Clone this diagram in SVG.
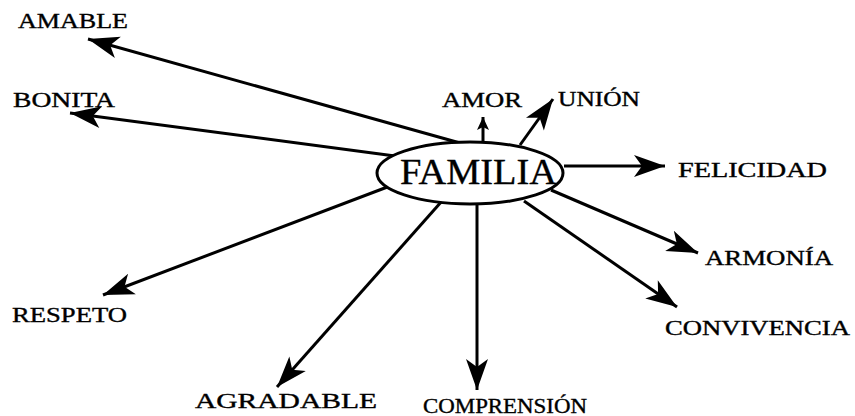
<svg xmlns="http://www.w3.org/2000/svg" width="855" height="416" viewBox="0 0 855 416">
<style>
.lbl{font-family:"Liberation Serif","Times New Roman",serif;font-size:20px;fill:#000;stroke:#000;stroke-width:0.35}
.c{stroke:#000;stroke-width:3;fill:none}
</style>
<defs>
<marker id="ah" markerUnits="userSpaceOnUse" markerWidth="34" markerHeight="24" viewBox="-32 -12 34 24" refX="0" refY="0" orient="auto">
<path d="M0,0 L-31,-11 L-23,0 L-31,11 Z" fill="#000"/>
</marker>
<marker id="ahs" markerUnits="userSpaceOnUse" markerWidth="16" markerHeight="14" viewBox="-14 -7 16 14" refX="0" refY="0" orient="auto">
<path d="M0,0 L-13,-6 L-10,0 L-13,6 Z" fill="#000"/>
</marker>
</defs>
<rect width="855" height="416" fill="#fff"/>
<g id="connectors">
<line class="c" x1="478" y1="148" x2="88" y2="39" marker-end="url(#ah)"/>
<line class="c" x1="395" y1="156" x2="70" y2="113" marker-end="url(#ah)"/>
<line class="c" x1="483" y1="146" x2="483" y2="117" marker-end="url(#ahs)"/>
<line class="c" x1="520" y1="145" x2="553" y2="99" marker-end="url(#ah)"/>
<line class="c" x1="564" y1="166" x2="665" y2="166" marker-end="url(#ah)"/>
<line class="c" x1="551" y1="190" x2="698" y2="253" marker-end="url(#ah)"/>
<line class="c" x1="524" y1="201" x2="677" y2="307" marker-end="url(#ah)"/>
<line class="c" x1="390" y1="186" x2="103" y2="295" marker-end="url(#ah)"/>
<line class="c" x1="442" y1="201" x2="277" y2="387" marker-end="url(#ah)"/>
<line class="c" x1="477" y1="204" x2="477" y2="390" marker-end="url(#ah)"/>
</g>
<g id="familia">
<ellipse cx="470" cy="173" rx="93" ry="31" fill="#fff" stroke="#000" stroke-width="3"/>
<text x="400" y="184" class="lbl" style="font-size:35px" textLength="157" lengthAdjust="spacingAndGlyphs">FAMILIA</text>
</g>
<g id="amable"><text class="lbl" x="18" y="28" textLength="110" lengthAdjust="spacingAndGlyphs">AMABLE</text></g>
<g id="bonita"><text class="lbl" x="13" y="107" textLength="102" lengthAdjust="spacingAndGlyphs">BONITA</text></g>
<g id="amor"><text class="lbl" x="442" y="107" textLength="80" lengthAdjust="spacingAndGlyphs">AMOR</text></g>
<g id="union"><text class="lbl" x="558" y="106" textLength="82" lengthAdjust="spacingAndGlyphs">UNIÓN</text></g>
<g id="felicidad"><text class="lbl" x="678" y="177" textLength="149" lengthAdjust="spacingAndGlyphs">FELICIDAD</text></g>
<g id="armonia"><text class="lbl" x="705" y="265" textLength="128" lengthAdjust="spacingAndGlyphs">ARMONÍA</text></g>
<g id="convivencia"><text class="lbl" x="665" y="335" textLength="185" lengthAdjust="spacingAndGlyphs">CONVIVENCIA</text></g>
<g id="respeto"><text class="lbl" x="12" y="322" textLength="115" lengthAdjust="spacingAndGlyphs">RESPETO</text></g>
<g id="agradable"><text class="lbl" x="195" y="408" textLength="182" lengthAdjust="spacingAndGlyphs">AGRADABLE</text></g>
<g id="comprension"><text class="lbl" x="423" y="413" textLength="164" lengthAdjust="spacingAndGlyphs">COMPRENSIÓN</text></g>
</svg>
